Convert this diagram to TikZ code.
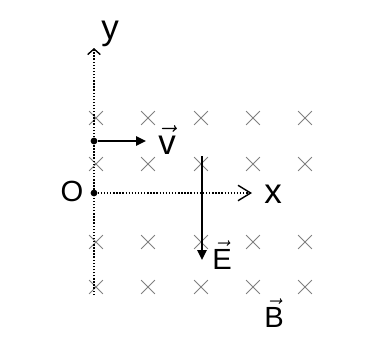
\documentclass[tikz,border=0pt]{standalone}
\usepackage{fontspec}
\setmainfont{Liberation Sans}
\setsansfont{Liberation Sans}
\usetikzlibrary{arrows.meta,shapes.misc}

\begin{document}
\begin{tikzpicture}[x=0.025cm,y=-0.025cm,
        cross/.style={draw=black!50,cross out,line width=0.7pt,minimum size=0.32cm,inner sep=0pt},
        axis/.style={dash pattern=on 1pt off 1.2pt,line width=1.2pt},
        vec/.style={-{Triangle[length=7pt,width=6.5pt]},line width=1.4pt},
        dot/.style={circle,fill,inner sep=1.7pt},
        lbl/.style={font=\huge,inner sep=0pt}]
        \useasboundingbox (0,0) rectangle (389,338);
        % field B into the page
        \foreach \cx in {96,148,201,253,305}
            \foreach \ry in {118,164,242,287}
                \node[cross] (c-\cx-\ry) at (\cx,\ry) {};
        % axes
        \node[dot] (o) at (94,193) {};
        \coordinate (xend) at (252,193);
        \coordinate (ybot) at (94,295);
        \coordinate (yend) at (94,48);
        \draw[axis,-{Straight Barb[length=9pt,width=11pt,line width=1pt]}] (o) -- (xend);
        \draw[axis,-{Straight Barb[length=4pt,width=9pt,line width=1pt]}] (ybot) -- (yend);
        \node[lbl] (olab) at (72,191) {O};
        \node[lbl,font=\Huge] (xlab) at (273,194) {x};
        \node[lbl,font=\Huge] (ylab) at (110,34) {y};
        % velocity
        \node[dot] (p) at (94,141) {};
        \coordinate (vtip) at (146,141);
        \draw[vec] (p) -- (vtip);
        \node[lbl,font=\Huge] (vlab) at (167,140) {$\vec{\mathsf{v}}$};
        % field E
        \coordinate (etop) at (202,156);
        \coordinate (etip) at (202,260);
        \draw[vec] (etop) -- (etip);
        \node[lbl] (elab) at (222,255) {$\vec{\mathsf{E}}$};
        \node[lbl] (blab) at (274,313) {$\vec{\mathsf{B}}$};
    \end{tikzpicture}
\end{document}
